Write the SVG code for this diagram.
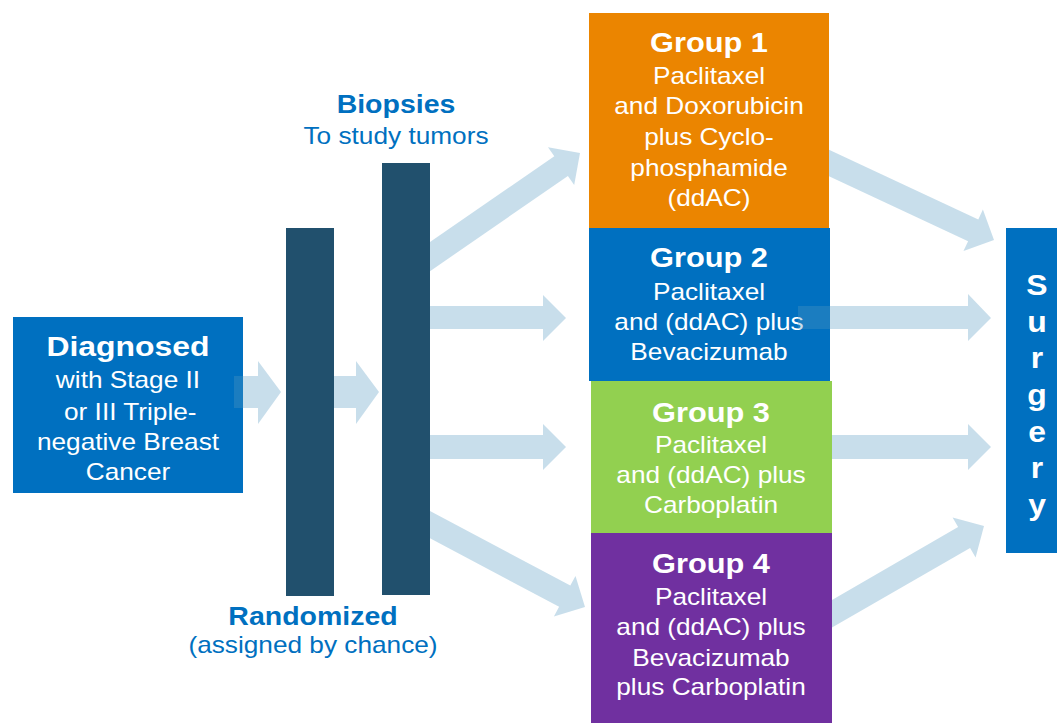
<svg xmlns="http://www.w3.org/2000/svg" width="1057" height="723" viewBox="0 0 1057 723">
<style>
text{font-family:"Liberation Sans",Arial,Helvetica,sans-serif;text-anchor:middle}
.b{font-weight:bold;font-size:27px}
.n{font-size:23px}
.w{fill:#ffffff}
.c{fill:#0070C0}
.arrow{fill:#5399C2;fill-opacity:0.32}
</style>
<rect width="1057" height="723" fill="#ffffff"/>
<g id="diagnosed">
<rect x="13" y="317" width="230" height="176" fill="#0070C0"/>
<g transform="translate(128 0) scale(1.14 1)">
<text class="w" x="0" y="356" style="font-weight:bold;font-size:28px">Diagnosed</text>
<text class="n w" x="0" y="388">with Stage II</text>
<text class="n w" x="2" y="420">or III Triple-</text>
<text class="n w" x="0" y="450">negative Breast</text>
<text class="n w" x="0" y="480">Cancer</text>
</g>
</g>
<g id="randomized">
<rect x="286" y="228" width="48" height="368" fill="#21506D"/>
<g transform="translate(313 0) scale(1.14 1)">
<text class="c" x="0" y="625" style="font-weight:bold;font-size:25px">Randomized</text>
<text class="n c" x="0" y="653">(assigned by chance)</text>
</g>
</g>
<g id="biopsies">
<rect x="382" y="163" width="48" height="432" fill="#21506D"/>
<g transform="translate(396 0) scale(1.14 1)">
<text class="c" x="0" y="113" style="font-weight:bold;font-size:25px">Biopsies</text>
<text class="n c" x="0" y="144">To study tumors</text>
</g>
</g>
<g id="group1">
<rect x="589" y="13" width="240" height="215" fill="#EB8500"/>
<g transform="translate(709 0) scale(1.14 1)">
<text class="b w" x="0" y="52">Group 1</text>
<text class="n w" x="0" y="84">Paclitaxel</text>
<text class="n w" x="0" y="114">and Doxorubicin</text>
<text class="n w" x="0" y="145">plus Cyclo-</text>
<text class="n w" x="0" y="176">phosphamide</text>
<text class="n w" x="0" y="206">(ddAC)</text>
</g>
</g>
<g id="group2">
<rect x="589" y="228" width="241" height="153" fill="#0070C0"/>
<g transform="translate(709 0) scale(1.14 1)">
<text class="b w" x="0" y="267">Group 2</text>
<text class="n w" x="0" y="300">Paclitaxel</text>
<text class="n w" x="0" y="330">and (ddAC) plus</text>
<text class="n w" x="0" y="360">Bevacizumab</text>
</g>
</g>
<g id="group3">
<rect x="591" y="381" width="241" height="152" fill="#92D050"/>
<g transform="translate(711 0) scale(1.14 1)">
<text class="b w" x="0" y="422">Group 3</text>
<text class="n w" x="0" y="453">Paclitaxel</text>
<text class="n w" x="0" y="483">and (ddAC) plus</text>
<text class="n w" x="0" y="513">Carboplatin</text>
</g>
</g>
<g id="group4">
<rect x="591" y="533" width="241" height="190" fill="#7030A0"/>
<g transform="translate(711 0) scale(1.14 1)">
<text class="b w" x="0" y="573">Group 4</text>
<text class="n w" x="0" y="605">Paclitaxel</text>
<text class="n w" x="0" y="635">and (ddAC) plus</text>
<text class="n w" x="0" y="666">Bevacizumab</text>
<text class="n w" x="0" y="695">plus Carboplatin</text>
</g>
</g>
<g id="surgery">
<rect x="1006" y="228" width="51" height="325" fill="#0070C0"/>
<g transform="translate(1037 0) scale(1.1 1)" style="font-weight:bold;font-size:29px">
<text class="w" x="0" y="295">S</text>
<text class="w" x="0" y="332">u</text>
<text class="w" x="0" y="368">r</text>
<text class="w" x="0" y="405">g</text>
<text class="w" x="0" y="442">e</text>
<text class="w" x="0" y="478">r</text>
<text class="w" x="0" y="515">y</text>
</g>
</g>
<g id="connectors">
<polygon class="arrow" points="234,376 258,376 258,361 281,392 258,424 258,408 234,408"/>
<polygon class="arrow" points="334,376 356,376 356,361 379,392 356,424 356,408 334,408"/>
<polygon class="arrow" points="430,242 554.3,156.2 548,147.2 580,153 574.2,185 567.9,176 430,271.2"/>
<polygon class="arrow" points="430,306 543,306 543,295 566,318 543,341 543,329 430,329"/>
<polygon class="arrow" points="430,435 543,435 543,424 566,447 543,470 543,459 430,459"/>
<polygon class="arrow" points="430,511.1 570.3,585.6 575.5,575.9 585,607 553.9,616.5 559.1,606.8 430,538.2"/>
<polygon class="arrow" points="829,149.7 978.3,219.4 982.9,209.5 994,240 963.5,251.1 968.1,241.2 829,176.3"/>
<polygon class="arrow" points="798,306 968,306 968,294 991,318 968,341 968,329 798,329"/>
<polygon class="arrow" points="832,435 968,435 968,424 991,447 968,470 968,459 832,459"/>
<polygon class="arrow" points="832,599.9 958.1,527.1 952.6,517.6 984,526 975.6,557.4 970.1,547.9 832,627.6"/>
</g>
</svg>
